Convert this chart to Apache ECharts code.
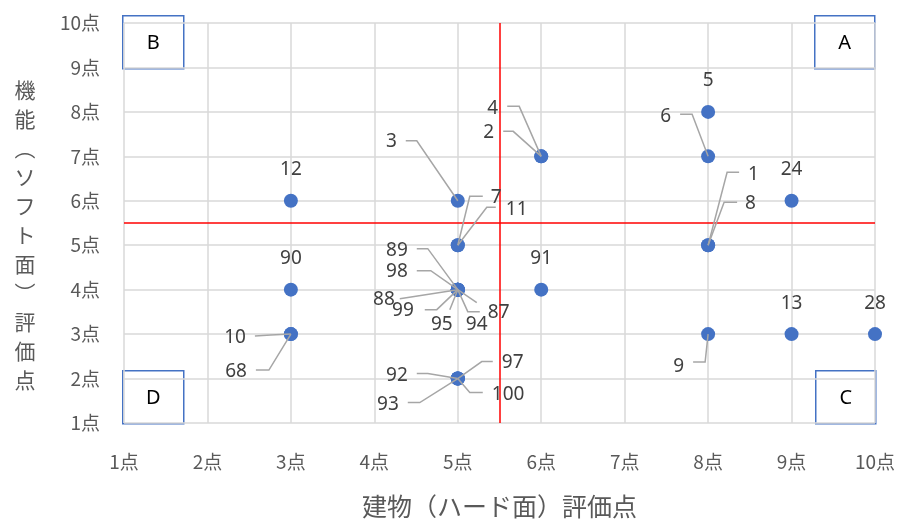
<!DOCTYPE html>
<html>
<head>
<meta charset="utf-8">
<script src="https://cdn.jsdelivr.net/npm/echarts@6/dist/echarts.min.js"></script>
<style>
html,body{margin:0;padding:0;background:#fff;}
#chart{width:899px;height:521px;}
</style>
</head>
<body>
<div id="chart"></div>
<script>
// ---- data ----
const ids      = [1, 2, 3, 4, 5, 6, 7, 8, 9, 10, 11, 12, 13, 24, 28, 68, 87, 88, 89, 90, 91, 92, 93, 94, 95, 97, 98, 99, 100];
const building = [8, 6, 5, 6, 8, 8, 5, 8, 8, 3,  5,  3,  9,  9,  10, 3,  5,  5,  5,  3,  6,  5,  5,  5,  5,  5,  5,  5,  5];
const func     = [5, 7, 6, 7, 8, 7, 5, 5, 3, 3,  5,  6,  3,  6,  3,  3,  4,  4,  4,  4,  4,  2,  2,  4,  4,  2,  4,  4,  2];
const tickValues = [1, 2, 3, 4, 5, 6, 7, 8, 9, 10];
const tickSuffix = '点';
const thresholdX = 5.5;
const thresholdY = 5.5;
const quadrantLabels = ['A', 'B', 'C', 'D'];
const xTitle = '建物（ハード面）評価点';
const yTitle = '機能（ソフト面）評価点';

// ---- label placement (pixel offsets from point, layout only) ----
const labelLayout = {
  1:  {bend:[19,-73], end:[31,-73], text:[40,-71], align:'left'},
  2:  {bend:[-28,-25], end:[-38,-25], text:[-47,-24], align:'right'},
  3:  {bend:[-41,-60], end:[-52,-60], text:[-61,-59], align:'right'},
  4:  {bend:[-22,-50], end:[-34,-50], text:[-43,-48], align:'right'},
  6:  {bend:[-16,-42], end:[-28,-42], text:[-37,-40], align:'right'},
  7:  {bend:[12,-49], end:[25,-49], text:[33,-48], align:'left'},
  8:  {bend:[16,-43], end:[29,-43], text:[37,-42], align:'left'},
  9:  {bend:[-3,28], end:[-15,28], text:[-24,32], align:'right'},
  10: {bend:[-20,1], end:[-36,2], text:[-45,3], align:'right'},
  11: {bend:[29,-38], end:[38,-38], text:[48,-36], align:'left'},
  68: {bend:[-22,36], end:[-35,36], text:[-44,37], align:'right'},
  87: {bend:[19,13], end:[19,13], text:[30,23], align:'left'},
  88: {bend:[-58,9], end:[-58,9], text:[-63,10], align:'right'},
  89: {bend:[-30,-41], end:[-41,-41], text:[-50,-39], align:'right'},
  92: {bend:[-30,-5], end:[-41,-5], text:[-50,-3], align:'right'},
  93: {bend:[-38,24], end:[-50,24], text:[-59,26], align:'right'},
  94: {bend:[10,22], end:[22,22], text:[8,35], align:'left'},
  95: {bend:[-8,20], end:[-8,20], text:[-16,35], align:'center'},
  97: {bend:[24,-17], end:[35,-17], text:[44,-16], align:'left'},
  98: {bend:[-27,-19], end:[-41,-19], text:[-50,-18], align:'right'},
  99: {bend:[-21,20], end:[-33,20], text:[-44,21], align:'right'},
  100:{bend:[12,14], end:[25,14], text:[34,16], align:'left'}
};
const aboveLayout = {text:[0,-31], align:'center'};

const pointData = ids.map((id, i) => [building[i], func[i], id]);

const chart = echarts.init(document.getElementById('chart'), null, {renderer:'canvas'});

const labelFont = '"Noto Sans", "Noto Sans CJK JP", sans-serif';
const jpFont = '"Noto Sans CJK JP", "Noto Sans", sans-serif';

function renderLabel(params, api) {
  const id = api.value(2);
  const c = api.coord([api.value(0), api.value(1)]);
  const lay = labelLayout[id] || aboveLayout;
  const children = [];
  if (lay.bend) {
    children.push({
      type: 'polyline',
      shape: {points: [[c[0], c[1]], [c[0]+lay.bend[0], c[1]+lay.bend[1]], [c[0]+lay.end[0], c[1]+lay.end[1]]]},
      style: {stroke: '#A6A6A6', lineWidth: 1.5, fill: null}
    });
  }
  children.push({
    type: 'text',
    x: c[0] + lay.text[0],
    y: c[1] + lay.text[1],
    style: {
      text: String(id),
      fill: '#404040',
      font: '19px ' + labelFont,
      align: lay.align,
      verticalAlign: 'middle'
    }
  });
  return {type: 'group', children: children};
}

const boxes = [
  {t: quadrantLabels[1], x: 122, y: 15, w: 61},
  {t: quadrantLabels[0], x: 814, y: 15, w: 60},
  {t: quadrantLabels[3], x: 122, y: 370, w: 61},
  {t: quadrantLabels[2], x: 815, y: 370, w: 60}
];
const graphics = [];
boxes.forEach(b => {
  graphics.push({
    type: 'group', left: b.x, top: b.y, z: 100,
    children: [
      {type: 'rect', shape: {x: 0, y: 0, width: b.w, height: 53}, style: {fill: '#fff', stroke: '#4472C4', lineWidth: 1.5}},
      {type: 'text', x: b.w/2, y: 28, style: {text: b.t, fill: '#000', font: '20px ' + labelFont, align: 'center', verticalAlign: 'middle'}}
    ]
  });
});
// vertical y-axis title
graphics.push({
  type: 'text', x: 25, y: 235, z: 100,
  style: {
    text: yTitle.replace('（','︵').replace('）','︶').split('').join('\n'),
    fill: '#595959', font: '21px ' + jpFont, lineHeight: 29,
    align: 'center', verticalAlign: 'middle'
  }
});

const axisCommon = {
  type: 'value',
  min: tickValues[0],
  max: tickValues[tickValues.length-1],
  interval: 1,
  axisLine: {show: false},
  axisTick: {show: false},
  splitLine: {show: true, lineStyle: {color: '#D9D9D9', width: 1.5}},
  axisLabel: {
    color: '#595959',
    fontSize: 19,
    fontFamily: jpFont,
    formatter: v => v + tickSuffix
  }
};

chart.setOption({
  animation: false,
  backgroundColor: '#fff',
  grid: {left: 124, right: 24, top: 23, bottom: 98, containLabel: false, outerBoundsMode: 'none'},
  xAxis: Object.assign({}, axisCommon, {
    axisLabel: Object.assign({}, axisCommon.axisLabel, {margin: 29}),
    name: xTitle,
    nameLocation: 'middle',
    nameGap: 71,
    nameTextStyle: {color: '#595959', fontSize: 25, fontFamily: jpFont}
  }),
  yAxis: Object.assign({}, axisCommon, {
    axisLabel: Object.assign({}, axisCommon.axisLabel, {margin: 24})
  }),
  graphic: graphics,
  series: [
    {
      type: 'scatter',
      data: pointData,
      symbolSize: 14,
      itemStyle: {color: '#4472C4', opacity: 1},
      z: 3,
      markLine: {
        silent: true,
        symbol: 'none',
        label: {show: false},
        lineStyle: {color: '#FF0000', width: 1.5, type: 'solid'},
        data: [{xAxis: thresholdX}, {yAxis: thresholdY}]
      }
    },
    {
      type: 'custom',
      data: pointData,
      z: 5,
      renderItem: renderLabel,
      clip: false
    }
  ]
});
</script>
</body>
</html>
